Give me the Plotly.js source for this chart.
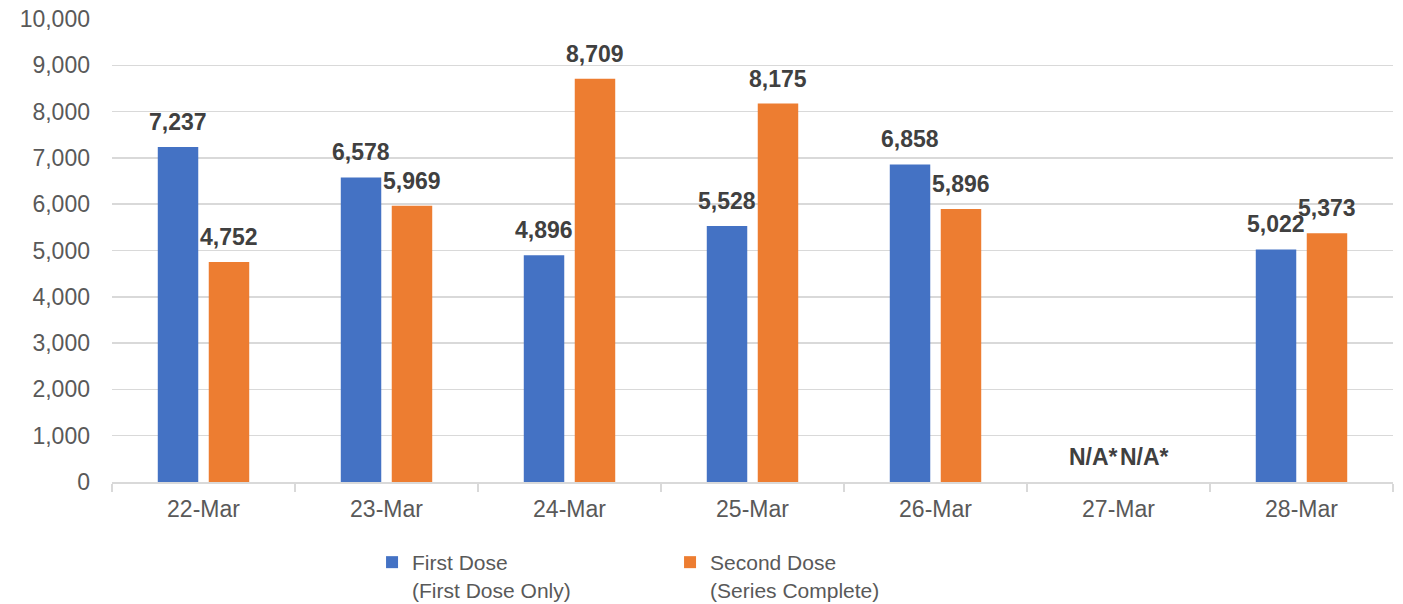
<!DOCTYPE html>
<html>
<head>
<meta charset="utf-8">
<script src="https://cdn.plot.ly/plotly-3.0.1.min.js"></script>
<style>html,body{margin:0;padding:0;background:#fff;}#chart{width:1403px;height:604px;}</style>
</head>
<body>
<div id="chart"></div>
<script>
const categories = ["22-Mar", "23-Mar", "24-Mar", "25-Mar", "26-Mar", "27-Mar", "28-Mar"];
const firstDose = [7237, 6578, 4896, 5528, 6858, null, 5022];
const secondDose = [4752, 5969, 8709, 8175, 5896, null, 5373];
const seriesNames = ["First Dose<br>(First Dose Only)", "Second Dose<br>(Series Complete)"];
const missingLabel = "N/A*";
const yTicks = [0, 1000, 2000, 3000, 4000, 5000, 6000, 7000, 8000, 9000, 10000];

const colors = ["#4472C4", "#ED7D31"];
const FONT = "Liberation Sans, Arial, sans-serif";

function yvals(arr) { return arr.map(v => v == null ? 0 : v); }
function labels(arr) { return arr.map(v => v == null ? missingLabel : v.toLocaleString("en-US")); }

const traces = [firstDose, secondDose].map((s, i) => ({
  type: "bar",
  x: categories,
  y: yvals(s),
  name: seriesNames[i],
  marker: { color: colors[i] },
  hoverinfo: "none"
}));

const annotations = [];
[firstDose, secondDose].forEach((s, i) => {
  const lab = labels(s);
  const yv = yvals(s);
  categories.forEach((c, j) => {
    annotations.push({
      x: c, y: yv[j], xref: "x", yref: "y",
      text: "<b>" + lab[j] + "</b>",
      showarrow: false,
      xshift: i === 0 ? -25.5 : 25.5,
      yshift: 25,
      yanchor: "middle",
      font: { family: FONT, size: 23, color: "#404040" }
    });
  });
});

const layout = {
  width: 1403, height: 604,
  margin: { l: 112, r: 10, t: 19, b: 122, autoexpand: false },
  paper_bgcolor: "#fff", plot_bgcolor: "#fff",
  barmode: "group",
  bargap: 0.443,
  bargroupgap: 0.206,
  font: { family: FONT, color: "#595959", size: 21 },
  showlegend: true,
  legend: {
    orientation: "h",
    x: 0.203, xanchor: "left",
    y: -0.1296, yanchor: "top",
    valign: "top",
    font: { family: FONT, size: 21, color: "#595959" },
    entrywidth: 253,
    itemclick: false
  },
  xaxis: {
    type: "category",
    showgrid: false,
    showline: true, linecolor: "#d9d9d9", linewidth: 1.5,
    ticks: "outside", tickson: "boundaries", ticklen: 8, tickcolor: "#d9d9d9", tickwidth: 1.5,
    tickfont: { family: FONT, size: 23, color: "#595959" },
    ticklabelstandoff: 6,
    fixedrange: true
  },
  yaxis: {
    range: [0, 10000],
    tickvals: yTicks,
    tickformat: ",",
    showgrid: true, gridcolor: "#d9d9d9", gridwidth: 1.5,
    zeroline: false,
    showline: false,
    ticks: "",
    tickfont: { family: FONT, size: 23, color: "#595959" },
    ticklabelstandoff: 21,
    fixedrange: true
  },
  annotations: annotations
};

Plotly.newPlot("chart", traces, layout, { displayModeBar: false, staticPlot: true });
</script>
</body>
</html>
